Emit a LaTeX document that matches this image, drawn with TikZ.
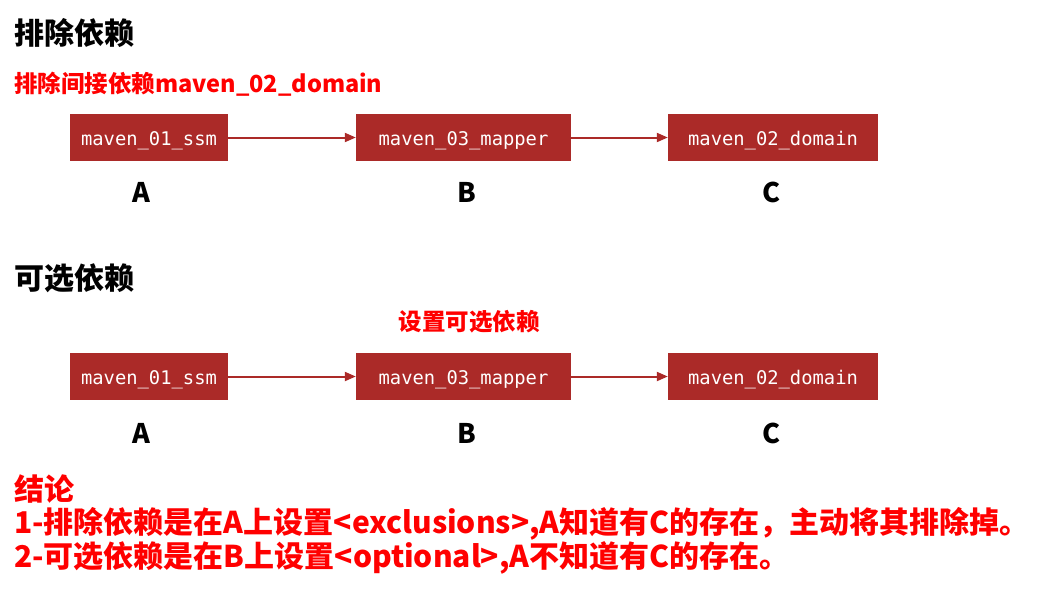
\documentclass[tikz,border=0pt]{standalone}
\usepackage{fontspec}
\newfontfamily\cjk{Noto Sans CJK SC}
\newfontfamily\boxmono{DejaVu Sans Mono}
\usetikzlibrary{arrows.meta}
\definecolor{boxred}{HTML}{AB2A28}
\definecolor{txtred}{HTML}{FF0000}
\tikzset{
  pkg/.style={fill=boxred, text=white, minimum width=#1, minimum height=47pt, inner sep=0pt, text height=15pt, text depth=0pt, font=\boxmono\fontsize{18.8}{20}\selectfont},
  pkg/.default=158pt,
  dep/.style={draw=boxred, line width=2pt, -{Triangle[length=11pt,width=9pt]}},
  letter/.style={font=\cjk\bfseries\fontsize{27}{30}\selectfont, text=black},
  head/.style={font=\cjk\bfseries\fontsize{30}{34}\selectfont, anchor=west, inner sep=0pt},
  redhead/.style={font=\cjk\bfseries\fontsize{23.5}{27}\selectfont, text=txtred, inner sep=0pt},
}
\begin{document}
\begin{tikzpicture}[x=1pt,y=-1pt]
\useasboundingbox (0,0) rectangle (1054,592);
\fill[white] (0,0) rectangle (1054,592);
% section 1
\node[head] (t1) at (14,33) {排除依赖};
\node[redhead, anchor=west] (t1r) at (14,84) {排除间接依赖maven\_02\_domain};
\node[pkg=158pt] (a1) at (149,137.5) {maven\_01\_ssm};
\node[pkg=215pt] (b1) at (463.5,137.5) {maven\_03\_mapper};
\node[pkg=210pt] (c1) at (773,137.5) {maven\_02\_domain};
\draw[dep] (a1) -- (b1);
\draw[dep] (b1) -- (c1);
\node[letter] (la1) at (141,192) {A};
\node[letter] (lb1) at (467,192) {B};
\node[letter] (lc1) at (771,192) {C};
% section 2
\node[head] (t2) at (14,278) {可选依赖};
\node[redhead] (t2r) at (469,322) {设置可选依赖};
\node[pkg=158pt] (a2) at (149,376.5) {maven\_01\_ssm};
\node[pkg=215pt] (b2) at (463.5,376.5) {maven\_03\_mapper};
\node[pkg=210pt] (c2) at (773,376.5) {maven\_02\_domain};
\draw[dep] (a2) -- (b2);
\draw[dep] (b2) -- (c2);
\node[letter] (la2) at (141,433) {A};
\node[letter] (lb2) at (467,433) {B};
\node[letter] (lc2) at (771,433) {C};
% conclusion
\node[head, text=txtred] (k0) at (14,489) {结论};
\node[head, text=txtred] (k1) at (14,524) {1-排除依赖是在A上设置<exclusions>,A知道有C的存在，主动将其排除掉。};
\node[head, text=txtred] (k2) at (14,558) {2-可选依赖是在B上设置<optional>,A不知道有C的存在。};
\end{tikzpicture}
\end{document}
